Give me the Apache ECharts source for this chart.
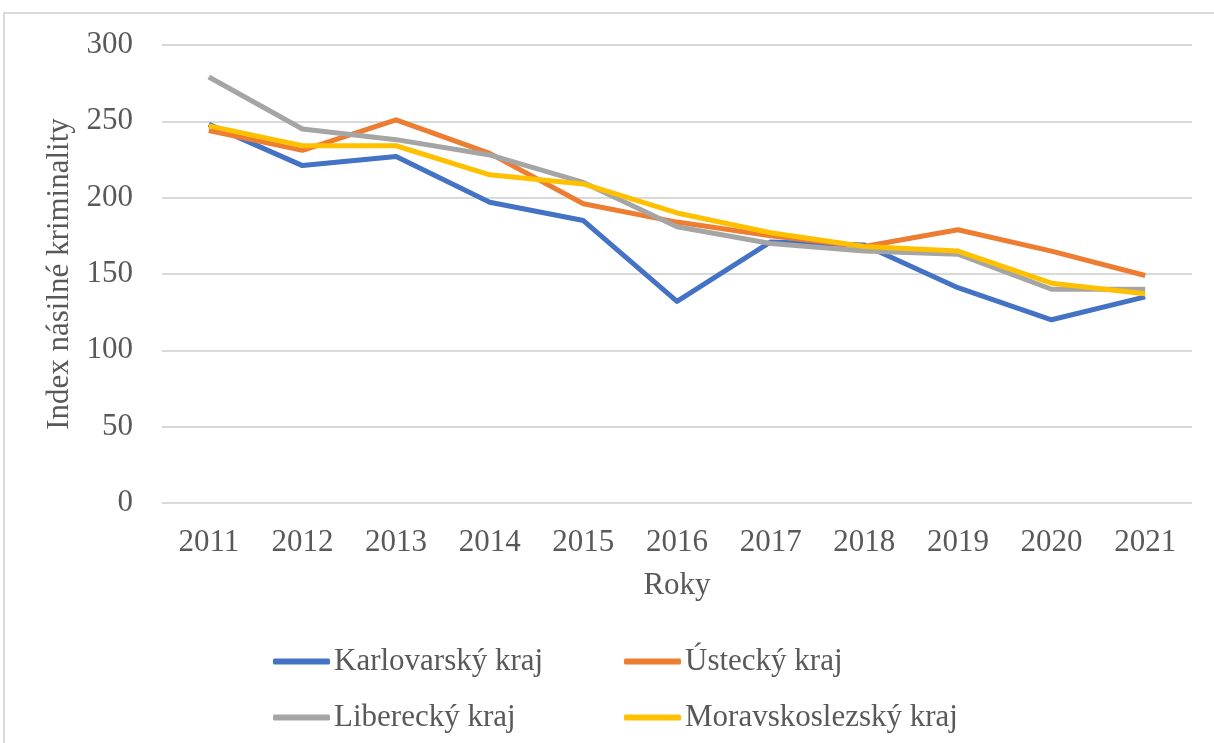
<!DOCTYPE html>
<html>
<head>
<meta charset="utf-8">
<script src="https://cdn.jsdelivr.net/npm/echarts@6/dist/echarts.min.js"></script>
<style>
  html, body { margin: 0; padding: 0; background: #fff; }
  #chart { width: 1214px; height: 743px; }
</style>
</head>
<body>
<div id="chart"></div>
<script>
// years on x axis
var years = ['2011', '2012', '2013', '2014', '2015', '2016', '2017', '2018', '2019', '2020', '2021'];

// index values
var karlovarsky = [248, 221, 227, 197, 185, 132, 171, 169, 141, 120, 135];
var ustecky = [244, 231, 251, 229, 196, 184, 175, 168, 179, 165, 149];
var liberecky = [279, 245, 238, 228, 210, 181, 170, 165, 163, 140, 140];
var moravskoslezsky = [247, 234, 234, 215, 209, 190, 177, 168, 165, 144, 137];

var names = ['Karlovarský kraj', 'Ústecký kraj', 'Liberecký kraj', 'Moravskoslezský kraj'];
var colors = ['#4472C4', '#ED7D31', '#A5A5A5', '#FFC000'];

var font = '"Liberation Serif", "Times New Roman", serif';
var textColor = '#595959';
var fs = 31;

function mkSeries(name, data, color) {
    return {
        name: name,
        type: 'line',
        data: data,
        symbol: 'none',
        lineStyle: { color: color, width: 5, join: 'round' },
        itemStyle: { color: color }
    };
}

var chart = echarts.init(document.getElementById('chart'), null, { renderer: 'canvas' });

var legendCommon = {
    orient: 'vertical',
    top: 646,
    padding: 0,
    itemGap: 25,
    itemWidth: 57,
    itemHeight: 6,
    icon: 'roundRect',
    textStyle: { fontFamily: font, fontSize: fs, color: textColor, padding: [0, 0, 0, -1] }
};

chart.setOption({
    animation: false,
    backgroundColor: '#fff',
    grid: { left: 162, right: 22, top: 45, bottom: 240, containLabel: false },
    graphic: [{
        type: 'rect',
        shape: { x: 4, y: 13, width: 1230, height: 760 },
        style: { fill: 'none', stroke: '#D0D0D0', lineWidth: 1.5 },
        silent: true
    }],
    legend: [
        Object.assign({ left: 273, data: [names[0], names[2]] }, legendCommon),
        Object.assign({ left: 624, data: [names[1], names[3]] }, legendCommon)
    ],
    xAxis: {
        type: 'category',
        data: years,
        boundaryGap: true,
        name: 'Roky',
        nameLocation: 'middle',
        nameGap: 67,
        nameTextStyle: { fontFamily: font, fontSize: fs, color: textColor },
        axisLine: { show: false },
        axisTick: { show: false },
        axisLabel: { margin: 24, fontFamily: font, fontSize: fs, color: textColor }
    },
    yAxis: {
        type: 'value',
        min: 0,
        max: 300,
        interval: 50,
        name: 'Index násilné kriminality',
        nameLocation: 'middle',
        nameGap: 84,
        nameTextStyle: { fontFamily: font, fontSize: fs, color: textColor },
        axisLine: { show: false },
        axisTick: { show: false },
        axisLabel: { margin: 29, fontFamily: font, fontSize: fs, color: textColor },
        splitLine: { lineStyle: { color: '#D9D9D9', width: 2 } }
    },
    series: [
        mkSeries(names[0], karlovarsky, colors[0]),
        mkSeries(names[1], ustecky, colors[1]),
        mkSeries(names[2], liberecky, colors[2]),
        mkSeries(names[3], moravskoslezsky, colors[3])
    ]
});
</script>
</body>
</html>
